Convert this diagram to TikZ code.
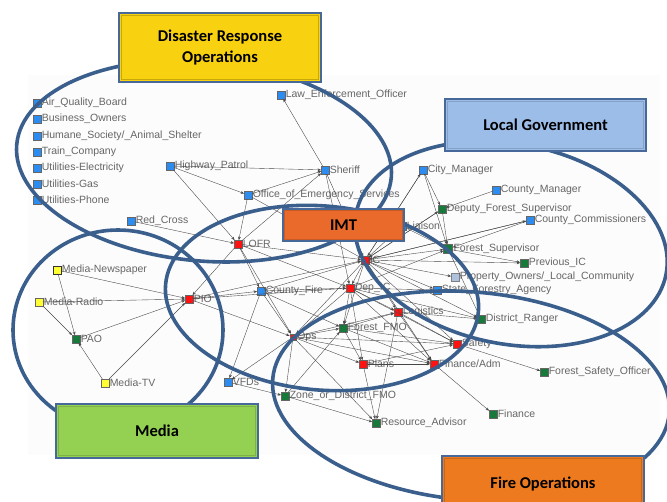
\documentclass[tikz,border=0pt]{standalone}
\usepackage{fontspec}
\setmainfont{Liberation Sans}
\newfontfamily\boxfont{Carlito}
\usetikzlibrary{arrows.meta}
\definecolor{nblue}{HTML}{2D8CF0}
\definecolor{nred}{HTML}{FF1212}
\definecolor{ngreen}{HTML}{17793A}
\definecolor{nyellow}{HTML}{FFFF33}
\definecolor{nprop}{HTML}{AFC2DD}
\definecolor{txtgray}{HTML}{666666}
\definecolor{ellcol}{HTML}{3A5F8D}
\definecolor{boxborder}{HTML}{46699A}
\definecolor{cyellow}{HTML}{F8D210}
\definecolor{cblue}{HTML}{9DBDE9}
\definecolor{cimt}{HTML}{EA6A2C}
\definecolor{cmedia}{HTML}{94D152}
\definecolor{cfire}{HTML}{EE7A1F}
\begin{document}
\begin{tikzpicture}[x=1pt,y=-1pt,
  sq/.style={rectangle, draw=black!60, line width=0.4pt, minimum size=7.5pt, inner sep=0pt},
  lbl/.style={font=\fontsize{10.5}{12}\selectfont, text=txtgray, inner sep=0.6pt},
  bl/.style={sq, fill=nblue},
  rd/.style={sq, fill=nred},
  gr/.style={sq, fill=ngreen},
  yl/.style={sq, fill=nyellow},
  edge/.style={draw=black!72, line width=0.38pt, -{Stealth[length=3.4pt,width=2.8pt]}},
  ell/.style={draw=ellcol, line width=3.6pt},
  catbox/.style={rectangle, draw=boxborder, line width=1.6pt, inner sep=0pt, align=center,
     font=\boxfont\bfseries\fontsize{16.5}{21}\selectfont, text=black}
]
\useasboundingbox (0,0) rectangle (667,501);
\fill[white] (0,0) rectangle (667,501);
\fill[black!1.2] (28,75) rectangle (660,455);

% ---------- nodes ----------
\node[bl, label={[lbl]east:Air\_Quality\_Board}] (aqb) at (37,103) {};
\node[bl, label={[lbl]east:Business\_Owners}] (bo) at (37,119) {};
\node[bl, label={[lbl]east:Humane\_Society/\_Animal\_Shelter}] (hs) at (37,136) {};
\node[bl, label={[lbl]east:Train\_Company}] (tc) at (37,152) {};
\node[bl, label={[lbl]east:Utilities-Electricity}] (ue) at (37,168) {};
\node[bl, label={[lbl]east:Utilities-Gas}] (ug) at (37,184) {};
\node[bl, label={[lbl]east:Utilities-Phone}] (up) at (37,200) {};
\node[bl, label={[lbl]east:Law\_Enforcement\_Officer}] (leo) at (281,95) {};
\node[bl, label={[lbl]east:Highway\_Patrol}] (hp) at (170,166) {};
\node[bl, label={[lbl]east:Sheriff}] (sh) at (325,170) {};
\node[bl, label={[lbl]east:Office\_of\_Emergency\_Services}] (oes) at (248,195) {};
\node[bl, label={[lbl]east:Red\_Cross}] (rc) at (131,221) {};
\node[bl, label={[lbl]east:City\_Manager}] (cm) at (423,170) {};
\node[bl, label={[lbl]east:County\_Manager}] (cmg) at (496,190) {};
\node[bl, label={[lbl]east:County\_Commissioners}] (cc) at (530,220) {};
\node[bl, label={[lbl]east:Liaison}] (liai) at (402,226) {};
\node[bl, label={[lbl]east:County\_Fire}] (cf) at (261,291) {};
\node[bl, label={[lbl]east:State\_Forestry\_Agency}] (sfa) at (437,290) {};
\node[bl, label={[lbl]east:VFDs}] (vfd) at (228,382) {};
\node[sq, fill=nprop, draw=black!50, label={[lbl]east:Property\_Owners/\_Local\_Community}] (prop) at (455,277) {};

\node[rd, label={[lbl]east:LOFR}] (lofr) at (238,244) {};
\node[rd, label={[lbl]east:IC}] (ic) at (365,260) {};
\node[rd, label={[lbl]east:Dep\_IC}] (depic) at (350,288) {};
\node[rd, label={[lbl]east:PIO}] (pio) at (189,299) {};
\node[rd, label={[lbl]east:Logistics}] (log) at (398,312) {};
\node[rd, minimum size=6.5pt, label={[lbl]east:Ops}] (ops) at (293,337) {};
\node[rd, label={[lbl]east:Safety}] (saf) at (457,344) {};
\node[rd, label={[lbl]east:Plans}] (plans) at (363,364) {};
\node[rd, label={[lbl]east:Finance/Adm}] (fin) at (434,364) {};

\node[gr, label={[lbl]east:Deputy\_Forest\_Supervisor}] (dfs) at (442,209) {};
\node[gr, minimum size=9pt, label={[lbl]east:Forest\_Supervisor}] (fs) at (448,249) {};
\node[gr, label={[lbl]east:Previous\_IC}] (pic) at (524,263) {};
\node[gr, label={[lbl]east:PAO}] (pao) at (76,339) {};
\node[gr, label={[lbl]east:Forest\_FMO}] (ffmo) at (343,328) {};
\node[gr, label={[lbl]east:District\_Ranger}] (dr) at (481,319) {};
\node[gr, label={[lbl]east:Forest\_Safety\_Officer}] (fso) at (544,372) {};
\node[gr, label={[lbl]east:Zone\_or\_District\_FMO}] (zfmo) at (285,396) {};
\node[gr, label={[lbl]east:Finance}] (finance) at (493,414) {};
\node[gr, label={[lbl]east:Resource\_Advisor}] (ra) at (376,423) {};

\node[yl, draw=black!80, label={[lbl]east:Media-Newspaper}] (mn) at (57,270) {};
\node[yl, label={[lbl]east:Media-Radio}] (mr) at (39,302) {};
\node[yl, label={[lbl]east:Media-TV}] (mtv) at (105,383) {};

% ---------- edges ----------
\foreach \a/\b in {sh/leo, hp/sh, hp/lofr, hp/oes, oes/sh, oes/lofr, rc/lofr, sh/ic, sh/depic,
  oes/ic, lofr/ic, lofr/depic, lofr/pio, lofr/cf, lofr/ops, lofr/sh,
  mn/pao, mr/pao, mtv/pao, mn/pio, mr/pio, mtv/pio, pao/pio, pio/ic, pio/depic, pio/cf, pio/ops,
  cf/depic, cf/ic, cf/vfd, cf/ops, cf/ffmo,
  ic/depic, ic/fs, ic/pic, ic/dr, ic/sfa, ic/prop, ic/log, ic/saf, ic/fin, ic/ops, ic/ffmo,
  ic/cc, ic/dfs, ic/cm, ic/liai,
  depic/log, depic/ffmo, depic/plans, depic/saf, depic/fin, depic/dr, depic/sfa, depic/ops, depic/fs,
  ffmo/log, ffmo/saf, ffmo/plans, ffmo/fin,
  ops/ffmo, ops/zfmo, ops/saf, ops/fin, ops/ra, ops/vfd, ops/plans, ops/log,
  log/saf, log/fin, log/dr, log/ra,
  plans/fin, plans/ra, plans/saf,
  fin/finance, saf/fso,
  zfmo/ffmo, zfmo/ra, vfd/zfmo,
  cm/dfs, cm/fs, cmg/dfs, cc/fs, dfs/fs, fs/pic, fs/dr, liai/fs, dfs/ic, cm/ic, cc/ic}
  \draw[edge] (\a) -- (\b);

% ---------- group ellipses ----------
\draw[ell, rotate around={-5:(204,161)}] (204,161) ellipse [x radius=188, y radius=100];
\draw[ell, rotate around={-11:(511,244)}] (511,244) ellipse [x radius=158, y radius=100];
\draw[ell, rotate around={-5:(322,298)}] (322,298) ellipse [x radius=157, y radius=92];
\draw[ell] (118,330) ellipse [x radius=105, y radius=100];
\draw[ell, rotate around={-5:(471,396)}] (471,396) ellipse [x radius=199, y radius=104];

% ---------- category boxes ----------
\node[catbox, fill=cyellow, minimum width=202pt, minimum height=69pt] (bdro) at (220,47.5) {Disaster Response\\Operations};
\draw[cyellow!80!black, line width=0.8pt] ([shift={(3,-3)}]bdro.south west) rectangle ([shift={(-3,3)}]bdro.north east);
\node[catbox, fill=cblue, minimum width=201pt, minimum height=52pt] (blg) at (545.5,125) {Local Government};
\draw[cblue!85!black, line width=0.8pt] ([shift={(3,-3)}]blg.south west) rectangle ([shift={(-3,3)}]blg.north east);
\node[catbox, fill=cimt, minimum width=121pt, minimum height=32pt] (bimt) at (343.5,225) {IMT};
\draw[cimt!85!black, line width=0.8pt] ([shift={(2.5,-2.5)}]bimt.south west) rectangle ([shift={(-2.5,2.5)}]bimt.north east);
\node[catbox, fill=cmedia, minimum width=202pt, minimum height=54pt] (bmed) at (157,431) {Media};
\draw[cmedia!85!black, line width=0.8pt] ([shift={(3,-3)}]bmed.south west) rectangle ([shift={(-3,3)}]bmed.north east);
\node[catbox, fill=cfire, minimum width=202pt, minimum height=56pt] (bfire) at (543,484) {Fire Operations};
\draw[cfire!85!black, line width=0.8pt] ([shift={(3,-3)}]bfire.south west) rectangle ([shift={(-3,3)}]bfire.north east);
\end{tikzpicture}
\end{document}
